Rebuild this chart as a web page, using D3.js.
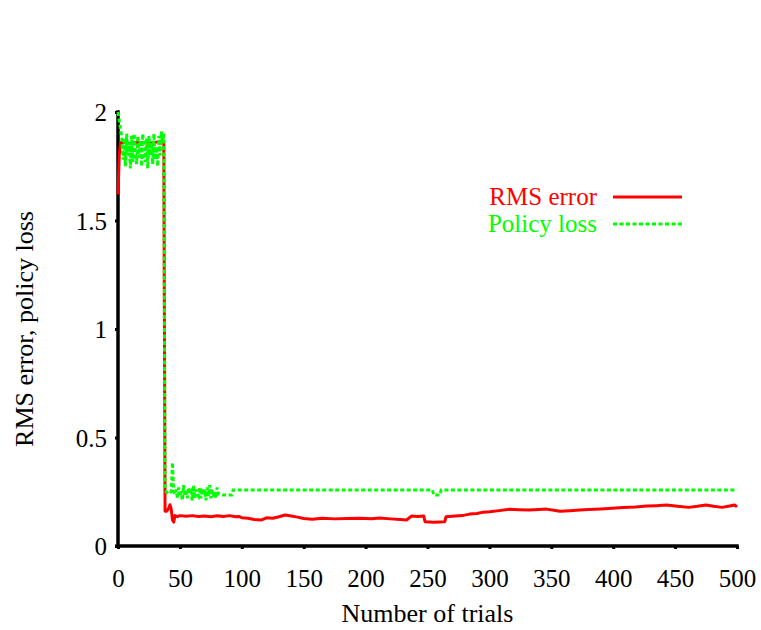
<!DOCTYPE html>
<html>
<head>
<meta charset="utf-8">
<script src="https://cdn.jsdelivr.net/npm/d3@7"></script>
<style>
  body { margin: 0; background: #fff; }
  text { font-family: "Liberation Serif", "Times New Roman", serif; }
</style>
</head>
<body>
<svg id="chart" width="761" height="630"></svg>
<script>
// RMS error (red) — trial number / value pairs
const rmsTrials = [0, 1, 2, 5, 10, 15, 20, 25, 30, 35, 37, 38, 39, 40, 41, 42, 43, 44, 45, 46, 48,
  50, 55, 60, 65, 70, 75, 80, 85, 90, 95, 98, 100, 105, 110, 116, 120, 125, 130, 135, 140, 145,
  150, 157, 165, 175, 185, 195, 205, 211, 220, 228, 233, 237, 242, 247, 248, 255, 264, 265, 270,
  278, 284, 290, 295, 300, 308, 316, 324, 332, 340, 346, 352, 357, 365, 373, 380, 390, 399, 408,
  418, 427, 435, 443, 452, 461, 468, 475, 481, 488, 494, 498, 500];
const rmsValues = [1.62, 1.80, 1.86, 1.86, 1.855, 1.86, 1.86, 1.855, 1.86, 1.865, 1.86, 0.16, 0.16,
  0.165, 0.175, 0.19, 0.17, 0.12, 0.11, 0.14, 0.135,
  0.14, 0.137, 0.14, 0.136, 0.138, 0.135, 0.139, 0.136, 0.14, 0.135, 0.136, 0.13, 0.128, 0.122,
  0.12, 0.13, 0.128, 0.135, 0.143, 0.138, 0.133,
  0.127, 0.123, 0.128, 0.125, 0.127, 0.128, 0.126, 0.129, 0.125, 0.122, 0.12, 0.138, 0.136, 0.138,
  0.112, 0.11, 0.112, 0.135, 0.137,
  0.14, 0.147, 0.15, 0.156, 0.158, 0.163, 0.169, 0.167, 0.166, 0.168, 0.17, 0.165, 0.16, 0.163,
  0.166, 0.168, 0.171, 0.174, 0.177,
  0.18, 0.184, 0.186, 0.189, 0.183, 0.178, 0.183, 0.189, 0.183, 0.178, 0.184, 0.189, 0.18];

// Policy loss (green, dotted)
const lossTrials = [0, 1, 2, 3, 4, 5, 6, 7, 8, 9, 10, 11, 12, 13, 14, 15, 16, 17, 18, 19, 20, 21,
  22, 23, 24, 25, 26, 27, 28, 29, 30, 31, 32, 33, 34, 35, 36, 37, 38, 39, 40, 41, 42, 43, 44, 45,
  46, 47, 48, 49, 50, 51, 52, 53, 54, 55, 56, 57, 58, 59, 60, 61, 62, 63, 64, 65, 66, 67, 68, 69,
  70, 71, 72, 73, 74, 75, 76, 77, 78, 79, 80, 81, 82, 85, 92, 93, 150, 200, 254, 255, 260, 261,
  300, 400, 500];
const lossValues = [2.0, 1.96, 1.92, 1.89, 1.78, 1.88, 1.75, 1.90, 1.80, 1.86, 1.74, 1.89, 1.77,
  1.90, 1.82, 1.76, 1.89, 1.79, 1.87, 1.75, 1.90, 1.81, 1.77, 1.88, 1.74, 1.89, 1.80, 1.86, 1.76,
  1.90, 1.78, 1.84, 1.75, 1.89, 1.80, 1.91, 1.86, 1.90, 0.26, 0.25, 0.245, 0.24, 0.245, 0.25,
  0.385, 0.25, 0.24, 0.26, 0.22, 0.27, 0.23, 0.25, 0.21, 0.28, 0.23, 0.26, 0.22, 0.27, 0.24, 0.25,
  0.21, 0.28, 0.22, 0.26, 0.24, 0.23, 0.27, 0.22, 0.25, 0.24, 0.26, 0.21, 0.27, 0.23, 0.28, 0.22,
  0.26, 0.24, 0.25, 0.22, 0.27, 0.24, 0.24, 0.235, 0.235, 0.258, 0.258, 0.258, 0.258, 0.235,
  0.235, 0.258, 0.258, 0.258, 0.258];

const xTicks = [0, 50, 100, 150, 200, 250, 300, 350, 400, 450, 500];
const yTicks = [0, 0.5, 1, 1.5, 2];

const svg = d3.select("#chart");

const x = d3.scaleLinear().domain([0, 500]).range([118, 737]);
const y = d3.scaleLinear().domain([0, 2]).range([546, 112]);

// axes: only left and bottom
const xAxis = svg.append("g")
  .attr("transform", "translate(0,546)")
  .call(d3.axisBottom(x).tickValues(xTicks).tickSize(3).tickPadding(20).tickFormat(d3.format("d")));
const yAxis = svg.append("g")
  .attr("transform", "translate(118,0)")
  .call(d3.axisLeft(y).tickValues(yTicks).tickSize(3).tickPadding(8).tickFormat(d => String(d)));

[xAxis, yAxis].forEach(g => {
  g.select(".domain").attr("stroke", "#000").attr("stroke-width", 3.5).attr("stroke-linecap", "square");
  g.selectAll(".tick line").attr("stroke", "#000").attr("stroke-width", 3);
  g.selectAll(".tick text")
    .attr("fill", "#000")
    .style("font-size", "25px")
    .style("font-family", '"Liberation Serif", serif');
});
// keep domain path plain (no outer ticks)
xAxis.select(".domain").attr("d", `M${x(0) - 1},0H${x(500)}`);
yAxis.select(".domain").attr("d", `M0,${y(2)}V${y(0)}`);
yAxis.selectAll(".tick text").attr("dy", "0.35em");

// axis titles
svg.append("text")
  .attr("x", (x(0) + x(500)) / 2)
  .attr("y", 622)
  .attr("text-anchor", "middle")
  .style("font-size", "26px")
  .text("Number of trials");

svg.append("text")
  .attr("transform", `translate(33,${(y(0) + y(2)) / 2}) rotate(-90)`)
  .attr("text-anchor", "middle")
  .style("font-size", "26px")
  .text("RMS error, policy loss");

// data lines
const rms = rmsTrials.map((t, i) => [t, rmsValues[i]]);
const loss = lossTrials.map((t, i) => [t, lossValues[i]]);
const line = d3.line().x(d => x(d[0])).y(d => y(d[1]));

svg.append("path")
  .datum(rms)
  .attr("d", line)
  .attr("fill", "none")
  .attr("stroke", "#ff0000")
  .attr("stroke-width", 3)
  .attr("stroke-linejoin", "round");

svg.append("path")
  .datum(loss)
  .attr("d", line)
  .attr("fill", "none")
  .attr("stroke", "#00ff00")
  .attr("stroke-width", 3)
  .attr("stroke-dasharray", "4,2.5");

// legend
const legend = [
  { label: "RMS error", color: "#ff0000", dash: null, y: 197 },
  { label: "Policy loss", color: "#00ff00", dash: "4,2.5", y: 224 }
];
legend.forEach(l => {
  svg.append("text")
    .attr("x", 597)
    .attr("y", l.y + 8)
    .attr("text-anchor", "end")
    .attr("fill", l.color)
    .style("font-size", "25px")
    .text(l.label);
  svg.append("line")
    .attr("x1", 613).attr("x2", 682)
    .attr("y1", l.y).attr("y2", l.y)
    .attr("stroke", l.color)
    .attr("stroke-width", 3)
    .attr("stroke-dasharray", l.dash);
});
</script>
</body>
</html>
